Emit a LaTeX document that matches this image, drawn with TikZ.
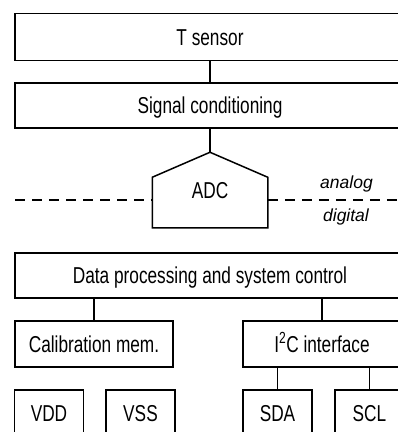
\documentclass[tikz,border=0pt]{standalone}
\usepackage{fontspec}
\setmainfont{Liberation Sans}[FakeStretch=0.75]
\newfontfamily\labelfont{Liberation Sans}
\begin{document}
\begin{tikzpicture}[x=1pt,y=-1pt,line width=1.5pt,
  block/.style={draw,minimum height=46pt,inner sep=0pt,text height=16.5pt,text depth=0pt,
    font=\fontsize{23}{27}\selectfont},
  lbl/.style={inner sep=0pt,anchor=base,font=\labelfont\fontsize{17.5}{21}\selectfont\itshape}]
\useasboundingbox (0,0) rectangle (398,432);
\clip (0,0) rectangle (398,432);
\node[block,minimum width=390pt,minimum height=47pt] (tsensor) at (210,37) {T sensor};
\node[block,minimum width=390pt,minimum height=45pt] (sigcond) at (210,105.5) {Signal conditioning};
\node[minimum width=114pt,minimum height=74pt,inner sep=0pt,text height=16.5pt,text depth=0pt,
  font=\fontsize{23}{27}\selectfont] (adc) at (210,190) {ADC};
\draw (adc.south west) -- ([yshift=-25pt]adc.north west) -- (adc.north)
  -- ([yshift=-25pt]adc.north east) -- (adc.south east) -- cycle;
% analog / digital border
\coordinate (dashl) at (15,200);
\coordinate (dashr) at (410,200);
\draw[dash pattern=on 10pt off 7pt] (dashl) -- (dashl -| adc.west);
\draw[dash pattern=on 10pt off 7pt] (dashr -| adc.east) -- (dashr);
\node[lbl] (analog) at (346.5,188) {analog};
\node[lbl] (digital) at (346,221) {digital};
\node[block,minimum width=390pt,minimum height=45pt] (dataproc) at (210,275.5) {Data processing and system control};
\node[block,minimum width=158pt] (calmem) at (94,344) {Calibration mem.};
\node[block,minimum width=158pt] (itwoc) at (322,344) {I\textsuperscript{2}C interface};
\foreach \name/\x/\txt in {vdd/49/VDD, vss/140.5/VSS, sda/277.5/SDA, scl/369.5/SCL}
  \node[block,minimum width=69pt] (\name) at (\x,413) {\txt};
\draw (tsensor) -- (sigcond);
\draw (sigcond) -- (adc.north);
\draw (calmem.north) -- (calmem.north |- dataproc.south);
\draw (itwoc.north) -- (itwoc.north |- dataproc.south);
\draw (sda.north) -- (sda.north |- itwoc.south);
\draw (scl.north) -- (scl.north |- itwoc.south);
\end{tikzpicture}
\end{document}
